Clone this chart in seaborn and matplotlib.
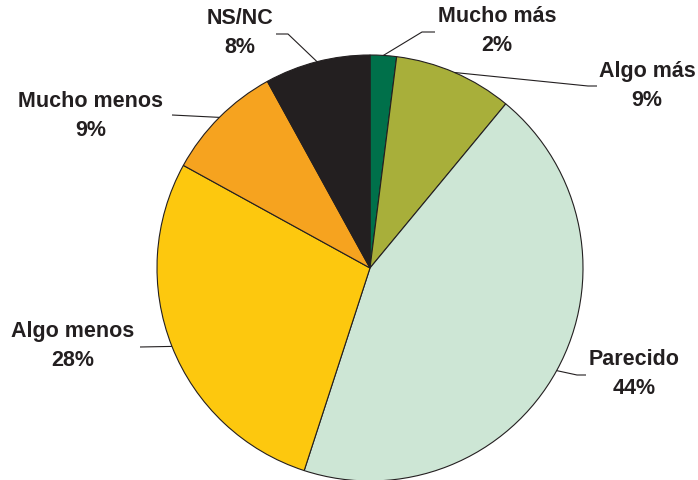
import numpy as np
import matplotlib
matplotlib.use("Agg")
import matplotlib.pyplot as plt
import seaborn as sns

# Survey answers, clockwise from 12 o'clock
categories = ["Mucho más", "Algo más", "Parecido", "Algo menos", "Mucho menos", "NS/NC"]
shares = [2, 9, 44, 28, 9, 8]
colors = ["#00704A", "#A8AF3A", "#CDE6D5", "#FDC80E", "#F6A31F", "#231F20"]

# Label placement (pixel space, y measured from the top): text centre, leader elbow, leader end
label_pos = [(497, 31), (647, 86), (634, 374), (73, 346), (91, 116), (240, 33)]
elbow_pos = [(422, 32), (588, 86), (577, 375), (140, 347), (172, 115), (288, 34)]
end_pos = [(435, 32), (597, 86), (586, 375), (140, 347), (172, 115), (276, 34)]

W, H = 698, 480
ink = "#231F20"

sns.set_theme(style="white")
plt.rcParams["font.family"] = ["Liberation Sans", "DejaVu Sans"]

fig = plt.figure(figsize=(W / 100, H / 100), dpi=100)
ax = fig.add_axes([0, 0, 1, 1])

cx, cy, r = 370, H - 268, 213
wedges, _ = ax.pie(
    shares,
    colors=colors,
    startangle=90,
    counterclock=False,
    center=(cx, cy),
    radius=r,
    frame=True,
    wedgeprops=dict(edgecolor=ink, linewidth=0.8),
)
ax.set_xlim(0, W)
ax.set_ylim(0, H)
ax.set_aspect("equal")
ax.axis("off")

for w, name, val, lp, ep, xp in zip(wedges, categories, shares, label_pos, elbow_pos, end_pos):
    mid = np.deg2rad((w.theta1 + w.theta2) / 2)
    sx, sy = cx + r * np.cos(mid), cy + r * np.sin(mid)
    ax.plot([sx, ep[0], xp[0]], [sy, H - ep[1], H - xp[1]], color=ink, lw=0.8,
            solid_capstyle="butt", zorder=1)
    ax.text(lp[0], H - lp[1], f"{name}\n{val}%", ha="center", va="center",
            fontsize=15.5, fontweight="bold", color=ink, linespacing=1.45)

fig.savefig("out.png", dpi=100)
